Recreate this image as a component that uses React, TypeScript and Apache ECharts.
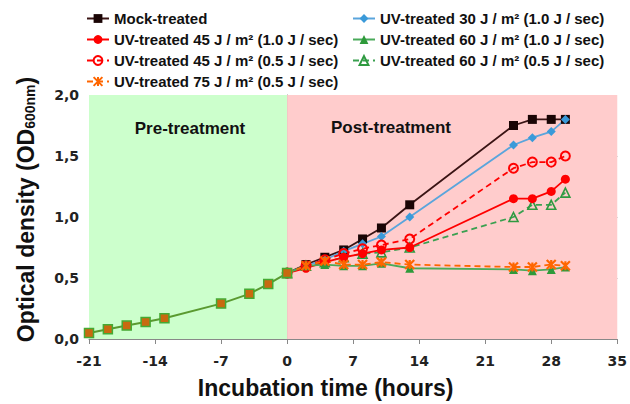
import React, { useEffect, useRef } from "react";
import * as echarts from "echarts";

// ---- Data ----
const preTime = [-21, -19, -17, -15, -13, -7, -4, -2, 0];
const preOD = [0.05, 0.08, 0.11, 0.14, 0.17, 0.29, 0.37, 0.45, 0.54];

const postTime = [0, 2, 4, 6, 8, 10, 13, 24, 26, 28, 29.5];
const mockOD = [0.54, 0.61, 0.67, 0.73, 0.82, 0.91, 1.1, 1.75, 1.8, 1.8, 1.8];
const uv30OD = [0.54, 0.6, 0.65, 0.72, 0.78, 0.84, 1.0, 1.59, 1.65, 1.7, 1.8];
const uv45fastOD = [0.54, 0.58, 0.63, 0.67, 0.7, 0.73, 0.75, 1.15, 1.15, 1.21, 1.31];
const uv45slowOD = [0.54, 0.6, 0.65, 0.7, 0.74, 0.77, 0.82, 1.4, 1.45, 1.45, 1.5];
const uv60fastOD = [0.54, 0.6, 0.61, 0.6, 0.6, 0.62, 0.58, 0.57, 0.56, 0.57, 0.59];
const uv60slowOD = [0.54, 0.6, 0.63, 0.67, 0.7, 0.71, 0.75, 1.0, 1.1, 1.1, 1.2];
const uv75OD = [0.54, 0.6, 0.64, 0.61, 0.61, 0.63, 0.61, 0.59, 0.59, 0.61, 0.6];

const names = {
  mock: "Mock-treated",
  uv30: "UV-treated 30 J / m² (1.0 J / sec)",
  uv45fast: "UV-treated 45 J / m² (1.0 J / sec)",
  uv60fast: "UV-treated 60 J / m² (1.0 J / sec)",
  uv45slow: "UV-treated 45 J / m² (0.5 J / sec)",
  uv60slow: "UV-treated 60 J / m² (0.5 J / sec)",
  uv75: "UV-treated 75 J / m² (0.5 J / sec)",
};

const xTicks = { min: -21, max: 35, interval: 7 };
const yTicks = { min: 0, max: 2, interval: 0.5 };
const phaseLabels = ["Pre-treatment", "Post-treatment"];

const zip = (xs: number[], ys: number[]) => xs.map((x, i) => [x, ys[i]]);

const FONT = "'Liberation Sans', Arial, sans-serif";
const asterisk = "path://M5,0L5,10M0,0L10,10M0,10L10,0";

export default function App() {
  const ref = useRef<HTMLDivElement>(null);
  useEffect(() => {
    document.body.style.margin = "0";
    if (!ref.current) return;
    const chart = echarts.init(ref.current, null, { renderer: "svg" });

    const legendBase = {
      padding: 0,
      itemWidth: 22,
      itemHeight: 11,
      selectedMode: false,
      textStyle: { fontFamily: FONT, fontWeight: "bold", fontSize: 15, color: "#111" },
    };

    const mk = (
      name: string,
      ys: number[],
      color: string,
      lineColor: string,
      symbol: string,
      size: number,
      dashed: boolean,
      extraItem: any = {}
    ) => ({
      type: "line",
      name,
      data: zip(postTime, ys),
      symbol,
      symbolSize: size,
      lineStyle: { color: lineColor, width: 1.8, type: dashed ? [6, 4] : "solid" },
      itemStyle: { color, borderColor: color, borderWidth: 0, ...extraItem },
      z: 3,
    });

    chart.setOption({
      animation: false,
      grid: { left: 89, right: 10, top: 95, bottom: 64 },
      legend: [
        { ...legendBase, data: [names.mock], left: 86, top: 11 },
        { ...legendBase, data: [names.uv45fast], left: 86, top: 32 },
        { ...legendBase, data: [names.uv45slow], left: 86, top: 53 },
        { ...legendBase, data: [names.uv75], left: 86, top: 74 },
        { ...legendBase, data: [names.uv30], left: 352, top: 11 },
        { ...legendBase, data: [names.uv60fast], left: 352, top: 32 },
        { ...legendBase, data: [names.uv60slow], left: 352, top: 53 },
      ],
      xAxis: {
        type: "value",
        min: xTicks.min,
        max: xTicks.max,
        interval: xTicks.interval,
        name: "Incubation time (hours)",
        nameLocation: "middle",
        nameGap: 37,
        nameTextStyle: {
          fontFamily: FONT,
          fontWeight: "bold",
          fontSize: 23,
          color: "#111",
          padding: [0, 55, 0, 0],
        },
        axisLine: { lineStyle: { color: "#888", width: 1 } },
        axisTick: { show: true, length: 5, lineStyle: { color: "#888" } },
        axisLabel: {
          margin: 15,
          fontFamily: "'DejaVu Sans', sans-serif",
          fontWeight: "bold",
          fontSize: 14,
          color: "#222",
        },
        splitLine: { show: false },
      },
      yAxis: {
        type: "value",
        min: yTicks.min,
        max: yTicks.max,
        interval: yTicks.interval,
        name: "{a|Optical density (OD}{b|600nm}{a|)}",
        nameLocation: "middle",
        nameGap: 52,
        nameTextStyle: {
          padding: [0, 0, 0, 15],
          rich: {
            a: { fontFamily: FONT, fontWeight: "bold", fontSize: 23, color: "#111" },
            b: {
              fontFamily: FONT,
              fontWeight: "bold",
              fontSize: 14,
              color: "#111",
              verticalAlign: "bottom",
              padding: [8, 0, 0, 0],
            },
          },
        },
        axisLine: { show: true, lineStyle: { color: "#888", width: 1 } },
        axisTick: { show: true, length: 5, lineStyle: { color: "#888" } },
        axisLabel: {
          margin: 10,
          fontFamily: "'DejaVu Sans', sans-serif",
          fontWeight: "bold",
          fontSize: 14,
          color: "#222",
          formatter: (v: number) => v.toFixed(1).replace(".", ","),
        },
        splitLine: { show: true, showMaxLine: false, lineStyle: { color: "#555", width: 1 } },
      },
      graphic: [
        {
          type: "text",
          x: 190,
          y: 128,
          style: {
            text: phaseLabels[0],
            fontFamily: FONT,
            fontWeight: "bold",
            fontSize: 17,
            fill: "#111",
            align: "center",
            verticalAlign: "middle",
          },
          z: 10,
        },
        {
          type: "text",
          x: 391,
          y: 127,
          style: {
            text: phaseLabels[1],
            fontFamily: FONT,
            fontWeight: "bold",
            fontSize: 17,
            fill: "#111",
            align: "center",
            verticalAlign: "middle",
          },
          z: 10,
        },
      ],
      series: [
        {
          type: "line",
          name: "background",
          data: [],
          z: -1,
          silent: true,
          markArea: {
            silent: true,
            label: { show: false },
            data: [
              [{ xAxis: xTicks.min, itemStyle: { color: "#ccffcc" } }, { xAxis: 0 }],
              [{ xAxis: 0, itemStyle: { color: "#ffcccc" } }, { xAxis: xTicks.max }],
            ],
          },
        },
        mk(names.mock, mockOD, "#1a0505", "#3a1414", "rect", 9, false),
        mk(names.uv30, uv30OD, "#3a9ad9", "#5aa5dc", "diamond", 9, false),
        mk(names.uv45slow, uv45slowOD, "rgba(255,255,255,0)", "#ff0000", "circle", 9, true, {
          borderColor: "#ff0000",
          borderWidth: 2,
        }),
        mk(names.uv60slow, uv60slowOD, "rgba(255,255,255,0)", "#3aa050", "triangle", 9, true, {
          borderColor: "#2e9a40",
          borderWidth: 1.6,
        }),
        mk(names.uv45fast, uv45fastOD, "#ff0000", "#ff0000", "circle", 9, false),
        mk(names.uv60fast, uv60fastOD, "#2e9a3a", "#4aaa5a", "triangle", 9, false),
        mk(names.uv75, uv75OD, "#ff6600", "#ff6600", asterisk, 9, true, {
          borderColor: "#ff6600",
          borderWidth: 2.2,
        }),
        {
          type: "line",
          name: "pre",
          data: zip(preTime, preOD),
          symbol: "rect",
          symbolSize: 9,
          lineStyle: { color: "#5a9a30", width: 2 },
          itemStyle: { color: "#c86a10", borderColor: "#44aa33", borderWidth: 1.5 },
          z: 4,
        },
      ],
    });
    return () => chart.dispose();
  }, []);
  return <div ref={ref} style={{ width: 630, height: 404 }} />;
}
